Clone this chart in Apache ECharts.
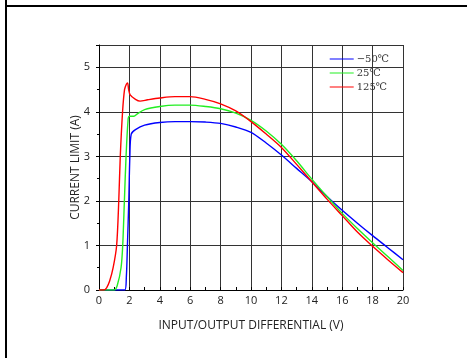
<!DOCTYPE html>
<html><head><meta charset="utf-8">
<script src="https://cdn.jsdelivr.net/npm/echarts@6/dist/echarts.min.js"></script>
<style>html,body{margin:0;padding:0;background:#fff}#c{width:468px;height:358px}</style>
</head><body><div id="c"></div>
<script>
var seriesNames = ['\u221250\u2103', '25\u2103', '125\u2103'];
var xTicks = [0, 2, 4, 6, 8, 10, 12, 14, 16, 18, 20];
var yTicks = [0, 1, 2, 3, 4, 5];
var blueX = [0, 1.7, 1.8, 1.87, 1.96, 2.03, 2.12, 2.4, 3, 4, 5, 6, 7, 8, 9, 10, 11, 12, 13, 14, 15, 16, 17, 18, 19, 20];
var blueY = [0, 0, 0.3, 1, 2, 3, 3.5, 3.6, 3.7, 3.76, 3.78, 3.78, 3.77, 3.74, 3.66, 3.54, 3.3, 3.03, 2.73, 2.43, 2.1, 1.79, 1.5, 1.22, 0.95, 0.68];
var greenX = [0, 1.0, 1.2, 1.45, 1.56, 1.67, 1.78, 1.92, 2.0, 2.3, 2.5, 3, 4, 5, 6, 7, 8, 9, 10, 11, 12, 13, 14, 15, 16, 17, 18, 19, 20];
var greenY = [0, 0, 0.1, 0.5, 1, 2, 3, 3.85, 3.9, 3.9, 3.95, 4.05, 4.12, 4.15, 4.15, 4.12, 4.07, 3.97, 3.81, 3.57, 3.27, 2.9, 2.49, 2.1, 1.72, 1.38, 1.06, 0.75, 0.44];
var redX = [0, 0.3, 0.5, 0.7, 0.93, 1.16, 1.3, 1.4, 1.55, 1.68, 1.8, 1.88, 1.95, 2.05, 2.4, 2.7, 3.2, 4, 5, 6, 7, 8, 9, 10, 11, 12, 13, 14, 15, 16, 17, 18, 19, 20];
var redY = [0, 0, 0.05, 0.2, 0.5, 1, 2, 3, 4, 4.5, 4.62, 4.65, 4.5, 4.38, 4.28, 4.24, 4.27, 4.31, 4.34, 4.34, 4.28, 4.18, 4.02, 3.78, 3.5, 3.2, 2.82, 2.43, 2.04, 1.67, 1.3, 0.98, 0.68, 0.39];

function pairs(xs, ys) { return xs.map(function (x, i) { return [x, ys[i]]; }); }
var colors = ['#0000ff', '#22ee22', '#ff0000'];
var chart = echarts.init(document.getElementById('c'));
var font = 'Open Sans, Noto Sans, sans-serif';
chart.setOption({
  animation: false,
  graphic: [
    { type: 'line', shape: { x1: 6, y1: 0, x2: 6, y2: 358 }, style: { stroke: '#000', lineWidth: 2 } },
    { type: 'line', shape: { x1: 6, y1: 6, x2: 467, y2: 6 }, style: { stroke: '#000', lineWidth: 2 } }
  ],
  grid: { left: 99, right: 65, top: 45, bottom: 68 },
  legend: {
    right: 74, top: 49, orient: 'vertical', itemWidth: 24, itemHeight: 10, itemGap: 4,
    icon: 'path://M0,4.5L24,4.5L24,5.5L0,5.5Z',
    textStyle: { fontFamily: 'DejaVu Serif, Liberation Serif, serif', fontSize: 10, color: '#333', padding: [0, 0, 0, -2] },
    data: seriesNames
  },
  xAxis: {
    type: 'value', min: 0, max: 20, interval: 2,
    name: 'INPUT/OUTPUT DIFFERENTIAL (V)', nameLocation: 'middle', nameGap: 30, nameMoveOverlap: false,
    nameTextStyle: { fontFamily: font, fontSize: 12, color: '#222' },
    axisLine: { lineStyle: { color: '#000', width: 1 } },
    axisTick: { inside: true, length: 3, lineStyle: { color: '#000' } },
    minorTick: { show: true, splitNumber: 2, length: 3, lineStyle: { color: '#000' } },
    axisLabel: { fontFamily: font, fontSize: 11, color: '#222', margin: 5,
      formatter: function (v) { return xTicks.indexOf(v) >= 0 ? String(v) : ''; } },
    splitLine: { show: true, lineStyle: { color: '#333', width: 1 } }
  },
  yAxis: {
    type: 'value', min: 0, max: 5.5, interval: 1,
    name: 'CURRENT LIMIT (A)', nameLocation: 'middle', nameGap: 17, nameMoveOverlap: false,
    nameTextStyle: { fontFamily: font, fontSize: 12, color: '#222' },
    axisLine: { show: true, lineStyle: { color: '#000', width: 1 } },
    axisTick: { show: true, length: 3, lineStyle: { color: '#000' } },
    minorTick: { show: true, splitNumber: 2, length: 2, lineStyle: { color: '#000' } },
    axisLabel: { fontFamily: font, fontSize: 11, color: '#222', margin: 9,
      formatter: function (v) { return yTicks.indexOf(v) >= 0 ? String(v) : ''; } },
    splitLine: { show: true, lineStyle: { color: '#333', width: 1 } }
  },
  series: [
    { name: seriesNames[0], type: 'line', data: pairs(blueX, blueY), smooth: 0.3, showSymbol: false, lineStyle: { width: 1.4, color: colors[0] }, itemStyle: { color: colors[0] } },
    { name: seriesNames[1], type: 'line', data: pairs(greenX, greenY), smooth: 0.3, showSymbol: false, lineStyle: { width: 1.4, color: colors[1] }, itemStyle: { color: colors[1] } },
    { name: seriesNames[2], type: 'line', data: pairs(redX, redY), smooth: 0.3, showSymbol: false, lineStyle: { width: 1.4, color: colors[2] }, itemStyle: { color: colors[2] } }
  ]
});
</script></body></html>
